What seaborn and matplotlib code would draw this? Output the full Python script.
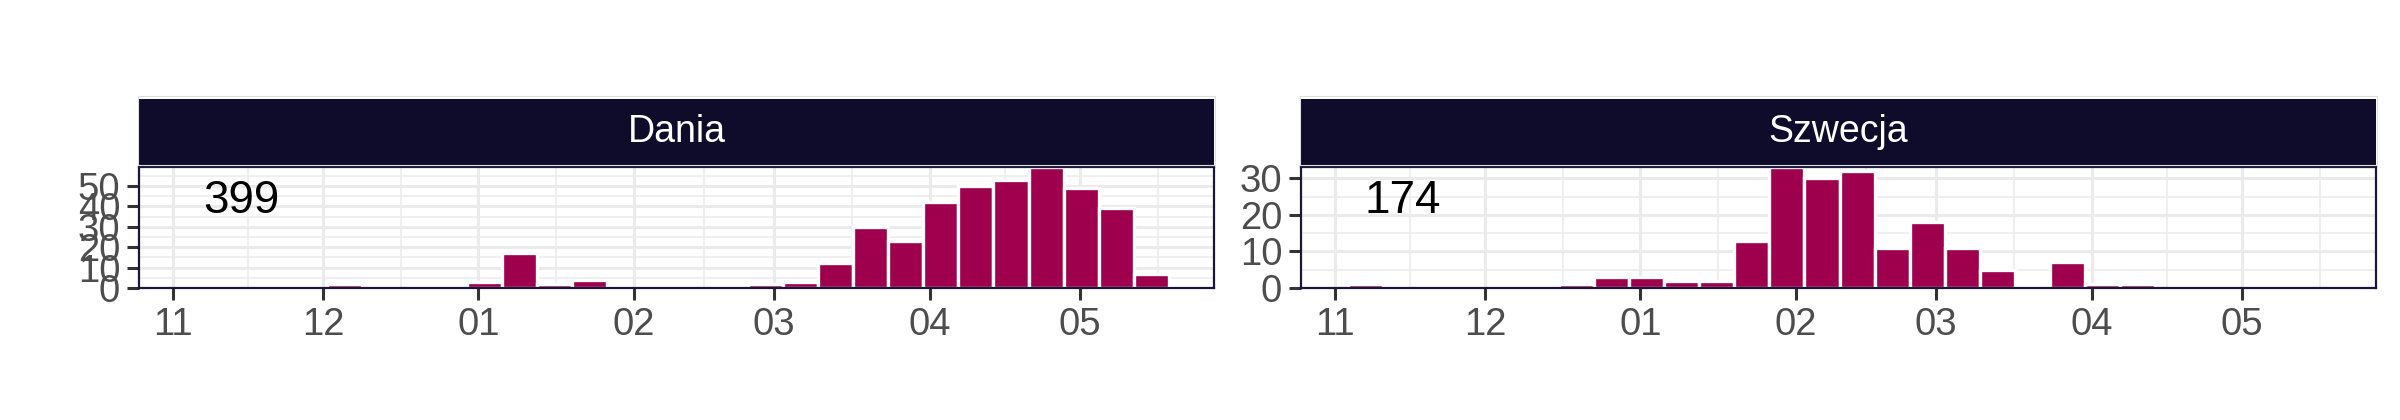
import numpy as np
import pandas as pd
import matplotlib
matplotlib.use("Agg")
import matplotlib.pyplot as plt
import matplotlib.dates as mdates
from matplotlib.patches import Rectangle
from matplotlib.ticker import AutoMinorLocator
import seaborn as sns

# tygodniowe przedziały (środki tygodni)
week_centres = pd.date_range("2020-11-07 05:00", periods=28, freq="7D")

countries = ["Dania", "Szwecja"]
totals = [399, 174]
dania_counts = [0, 0, 0, 0, 2, 0, 0, 1, 3, 17, 2, 4, 0, 1, 0, 0,
                2, 3, 12, 30, 23, 42, 50, 53, 59, 49, 39, 7]
szwecja_counts = [1, 0, 0, 0, 0, 0, 1, 3, 3, 2, 2, 13, 33, 30, 32, 11,
                  18, 11, 5, 0, 7, 1, 1, 0, 0, 0, 0, 0]
y_ticks = [[0, 10, 20, 30, 40, 50], [0, 10, 20, 30]]

bar_color = "#9E004E"
strip_color = "#0E0B2B"
border_color = "#1B1738"

sns.set_style("white")
plt.rcParams["font.family"] = ["Liberation Sans", "DejaVu Sans"]

fig = plt.figure(figsize=(24, 4.2), dpi=100)

x = mdates.date2num(week_centres)
d0 = mdates.date2num(pd.Timestamp("2020-11-01"))

month_starts = pd.date_range("2020-11-01", "2021-05-01", freq="MS")
all_months = pd.date_range("2020-10-01", "2021-06-01", freq="MS")
month_nums = mdates.date2num(all_months)
minor_x = (month_nums[:-1] + month_nums[1:]) / 2

panel_left = [139 / 2400, 1301 / 2400]
panel_w = 1075 / 2400

for i, (name, counts) in enumerate(zip(countries, [dania_counts, szwecja_counts])):
    df = pd.DataFrame({"tydzien": x, "n": counts})
    ax = fig.add_axes([panel_left[i], 0.3143, panel_w, 0.2869])
    sns.histplot(data=df, x="tydzien", weights="n", binwidth=7,
                 binrange=(x[0] - 3.5, x[-1] + 3.5), ax=ax,
                 color=bar_color, alpha=1, edgecolor="white", linewidth=2.4)
    ax.set_xticks(mdates.date2num(month_starts))
    ax.set_xticklabels(month_starts.strftime("%m"))
    ax.set_xticks(minor_x, minor=True)
    ax.set_yticks(y_ticks[i])
    ax.yaxis.set_minor_locator(AutoMinorLocator(2))
    # limity po ustawieniu ticków (set_xticks rozszerza zakres)
    ax.set_xlim(d0 - 6.7, d0 + 207.7)
    ax.set_ylim(0, max(counts))
    ax.set_xlabel("")
    ax.set_ylabel("")
    ax.set_axisbelow(True)
    ax.grid(which="major", color="#EBEBEB", linewidth=2.2)
    ax.grid(which="minor", color="#EBEBEB", linewidth=1.1)
    ax.tick_params(which="major", length=8.5, width=2.2, color="#333333",
                   labelsize=27.5, labelcolor="#4D4D4D", pad=5,
                   bottom=True, left=True)
    ax.tick_params(which="minor", length=0)
    for s in ax.spines.values():
        s.set_color(border_color)
        s.set_linewidth(1.6)
    ax.text(0.095, 0.72, str(totals[i]), transform=ax.transAxes,
            ha="center", va="center", fontsize=33, color="black")

    # pasek z nazwą kraju
    sax = fig.add_axes([panel_left[i] - 0.0004, (420 - 165) / 420, panel_w + 0.0008, 69 / 420])
    sax.set_xticks([])
    sax.set_yticks([])
    sax.set_xlim(0, 1)
    sax.set_ylim(0, 1)
    for s in sax.spines.values():
        s.set_color("#DEDEDE")
        s.set_linewidth(0.8)
    sax.add_patch(Rectangle((0.001, 0.0), 0.998, 0.955, facecolor=strip_color,
                            edgecolor="none"))
    sax.text(0.5, 0.48, name, ha="center", va="center", fontsize=27, color="white")

fig.savefig("out.png", dpi=100)
